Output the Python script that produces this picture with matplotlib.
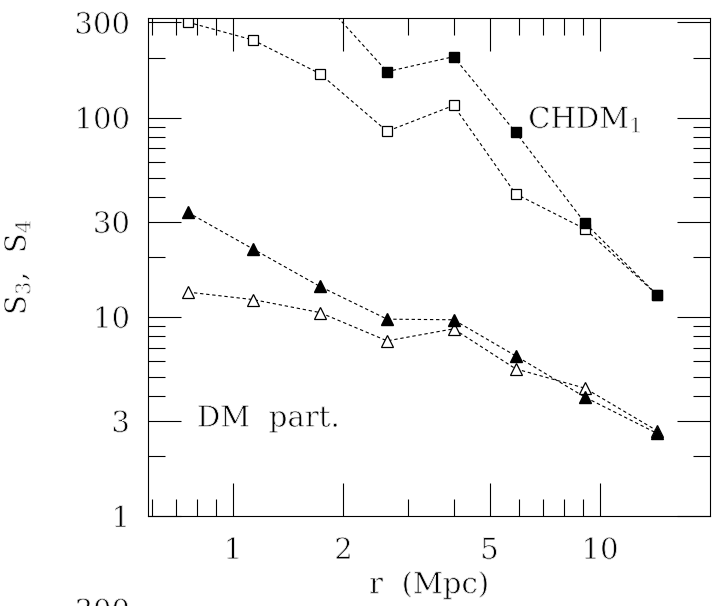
import numpy as np
import matplotlib.pyplot as plt
import matplotlib.patheffects as pe
from matplotlib.ticker import FixedLocator, NullFormatter

plt.rcParams['font.family'] = 'DejaVu Serif'
plt.rcParams['mathtext.fontset'] = 'dejavuserif'

# separations r (Mpc)
r = [0.754, 1.134, 1.726, 2.63, 3.99, 5.89, 9.10, 14.3]

# squares: filled = CHDM_1, open = DM particles
sq_chdm = [700, 560, 400, 170, 202, 84.4, 29.6, 12.9]
sq_dm = [301, 245, 166, 85.3, 115, 41.4, 27.6, 12.9]
# triangles: filled = CHDM_1, open = DM particles
tri_chdm = [33.4, 21.9, 14.2, 9.73, 9.66, 6.37, 3.95, 2.60]
tri_dm = [13.3, 12.2, 10.5, 7.57, 8.7, 5.48, 4.38, 2.68]

xmajor = [1, 2, 5, 10]
xminor = [0.6, 0.7, 0.8, 0.9, 3, 4, 6, 7, 8, 9]
ymajor = [1, 3, 10, 30, 100, 300]
yminor = [2, 4, 5, 6, 7, 8, 9, 20, 40, 50, 60, 70, 80, 90, 200]

# thin the serif glyphs a little, closer to the stroke font of the original
thin = [pe.Normal(), pe.Stroke(linewidth=0.6, foreground='w')]

fig = plt.figure(figsize=(7.12, 6.06), dpi=100)
ax = fig.add_axes([0.2079, 0.1485, 0.7893, 0.8218])

ls = (0, (3, 2.5))
ax.plot(r, sq_dm, 's', ls=ls, color='k', lw=0.8, ms=7, mfc='w', mec='k', mew=0.9)
ax.plot(r, sq_chdm, 's', ls=ls, color='k', lw=0.8, ms=7, mfc='k', mec='k')
ax.plot(r, tri_dm, '^', ls=ls, color='k', lw=0.8, ms=8, mfc='w', mec='k', mew=0.9)
ax.plot(r, tri_chdm, '^', ls=ls, color='k', lw=0.8, ms=8, mfc='k', mec='k')

ax.set_xscale('log')
ax.set_yscale('log')
ax.set_xlim(0.587, 19.94)
ax.set_ylim(1, 316)

ax.xaxis.set_major_locator(FixedLocator(xmajor))
ax.xaxis.set_minor_locator(FixedLocator(xminor))
ax.yaxis.set_major_locator(FixedLocator(ymajor))
ax.yaxis.set_minor_locator(FixedLocator(yminor))
ax.set_xticklabels([str(v) for v in xmajor])
ax.set_yticklabels([str(v) for v in ymajor])
ax.xaxis.set_minor_formatter(NullFormatter())
ax.yaxis.set_minor_formatter(NullFormatter())

ax.tick_params(which='both', direction='in', top=True, right=True, width=0.8,
               labelsize=21)
ax.tick_params(which='major', length=24)
ax.tick_params(which='minor', length=12)
ax.tick_params(axis='x', which='major', pad=15)
ax.tick_params(axis='y', which='major', pad=13)
for s in ax.spines.values():
    s.set_linewidth(0.8)

ax.set_xlabel('r  (Mpc)', fontsize=21, labelpad=4)
ax.set_ylabel('S$_3$,  S$_4$', fontsize=21, labelpad=30)

ax.text(6.37, 88.5, 'CHDM$_1$', fontsize=21, va='baseline', ha='left')
ax.text(0.798, 2.81, 'DM  part.', fontsize=21, va='baseline', ha='left')

# top of the next panel's label, cut off by the page edge as in the original
fig.text(130 / 712, 1 - 598 / 606, '300', fontsize=21, ha='right', va='top')

for t in ax.get_xticklabels() + ax.get_yticklabels() + ax.texts + fig.texts:
    t.set_path_effects(thin)
ax.xaxis.label.set_path_effects(thin)
ax.yaxis.label.set_path_effects(thin)

fig.savefig('out.png', dpi=100)
